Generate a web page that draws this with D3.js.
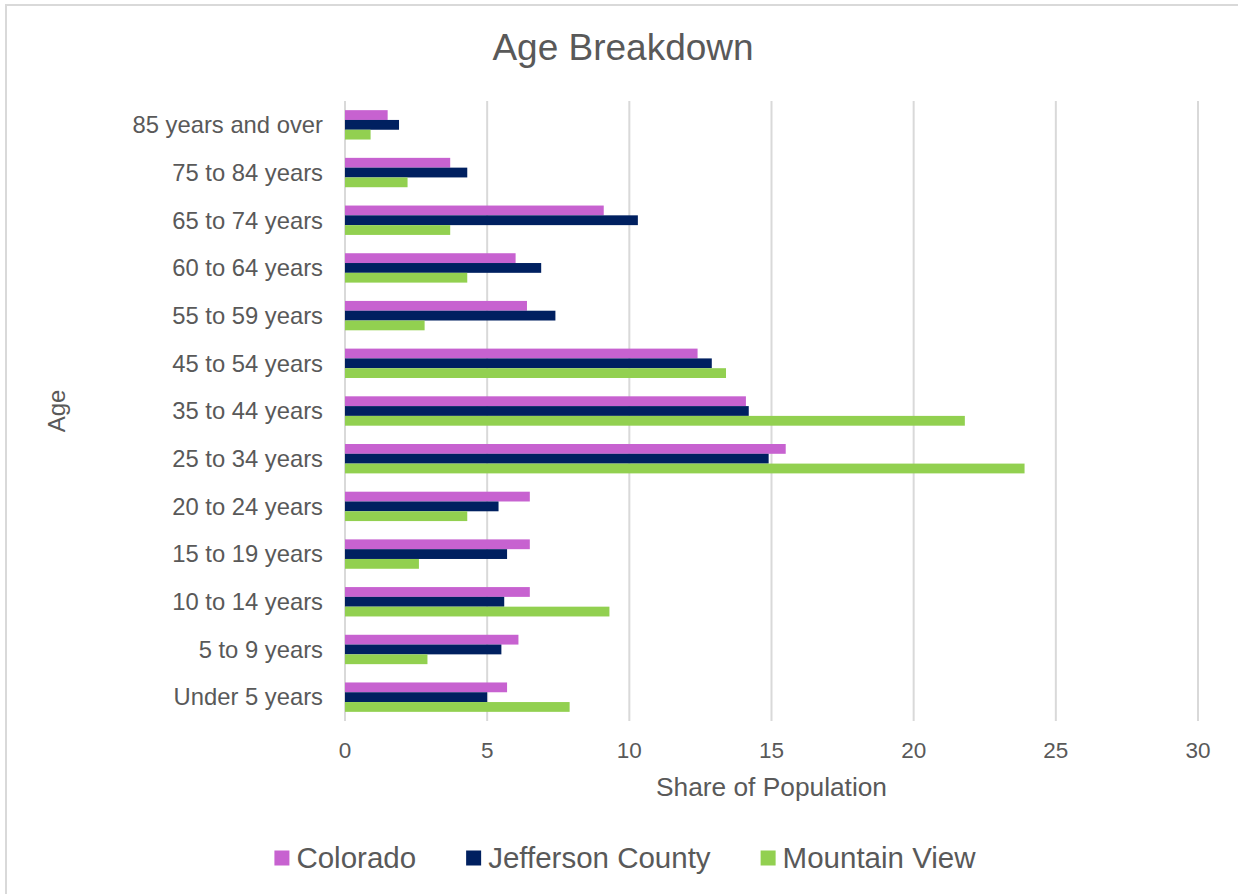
<!DOCTYPE html>
<meta charset="utf-8">
<script src="https://d3js.org/d3.v7.min.js"></script>
<style>
  body { margin: 0; background: #fff; }
  text { font-family: "Liberation Sans", Arial, sans-serif; fill: #595959; }
</style>
<div id="chart"></div>
<script>
// age groups, top to bottom as drawn
var ageGroups = ["85 years and over", "75 to 84 years", "65 to 74 years", "60 to 64 years",
  "55 to 59 years", "45 to 54 years", "35 to 44 years", "25 to 34 years", "20 to 24 years",
  "15 to 19 years", "10 to 14 years", "5 to 9 years", "Under 5 years"];

var seriesNames = ["Colorado", "Jefferson County", "Mountain View"];
var seriesColors = ["#c762d0", "#002060", "#92d050"];

// share of population (%) per age group, same order as ageGroups
var colorado      = [1.5, 3.7, 9.1, 6.0, 6.4, 12.4, 14.1, 15.5, 6.5, 6.5, 6.5, 6.1, 5.7];
var jefferson     = [1.9, 4.3, 10.3, 6.9, 7.4, 12.9, 14.2, 14.9, 5.4, 5.7, 5.6, 5.5, 5.0];
var mountainView  = [0.9, 2.2, 3.7, 4.3, 2.8, 13.4, 21.8, 23.9, 4.3, 2.6, 9.3, 2.9, 7.9];

var xTicks = [0, 5, 10, 15, 20, 25, 30];

var W = 1238, H = 894;
var plot = {left: 345, right: 1198, top: 101, bottom: 721};

var svg = d3.select("#chart").append("svg")
    .attr("width", W)
    .attr("height", H);

// chart frame (only top and left edges are visible in the picture)
svg.append("rect")
    .attr("x", 6).attr("y", 5)
    .attr("width", W + 20).attr("height", H + 20)
    .attr("fill", "none")
    .attr("stroke", "#d9d9d9")
    .attr("stroke-width", 2);

var x = d3.scaleLinear()
    .domain([0, 30])
    .range([plot.left, plot.right]);

var y = d3.scaleBand()
    .domain(ageGroups)
    .range([plot.top, plot.bottom])
    .paddingInner(0.384)
    .paddingOuter(0.192);

var ySub = d3.scaleBand()
    .domain(seriesNames)
    .range([0, y.bandwidth()]);

var color = d3.scaleOrdinal().domain(seriesNames).range(seriesColors);

// gridlines
svg.append("g")
  .selectAll("line")
  .data(xTicks)
  .enter()
  .append("line")
    .attr("x1", function(d) { return x(d); })
    .attr("x2", function(d) { return x(d); })
    .attr("y1", plot.top)
    .attr("y2", plot.bottom)
    .attr("stroke", "#d9d9d9")
    .attr("stroke-width", 2);

// x tick labels
svg.append("g")
  .selectAll("text")
  .data(xTicks)
  .enter()
  .append("text")
    .attr("x", function(d) { return x(d); })
    .attr("y", 758)
    .attr("text-anchor", "middle")
    .style("font-size", "22.5px")
    .text(function(d) { return d; });

// category labels
svg.append("g")
  .selectAll("text")
  .data(ageGroups)
  .enter()
  .append("text")
    .attr("x", 323)
    .attr("y", function(d) { return y(d) + y.bandwidth() / 2; })
    .attr("dy", "0.35em")
    .attr("text-anchor", "end")
    .style("font-size", "23.8px")
    .text(function(d) { return d; });

// bars
var rows = ageGroups.map(function(g, i) {
  return {group: g, values: [colorado[i], jefferson[i], mountainView[i]]};
});

var groups = svg.append("g")
  .selectAll("g")
  .data(rows)
  .enter()
  .append("g")
    .attr("transform", function(d) { return "translate(0," + y(d.group) + ")"; });

groups.selectAll("rect")
  .data(function(d) {
    return d.values.map(function(v, j) { return {name: seriesNames[j], value: v}; });
  })
  .enter()
  .append("rect")
    .attr("x", x(0))
    .attr("y", function(d) { return ySub(d.name); })
    .attr("width", function(d) { return x(d.value) - x(0); })
    .attr("height", ySub.bandwidth())
    .attr("fill", function(d) { return color(d.name); });

// title
svg.append("text")
    .attr("x", 623)
    .attr("y", 60)
    .attr("text-anchor", "middle")
    .style("font-size", "37px")
    .text("Age Breakdown");

// axis titles
svg.append("text")
    .attr("x", (plot.left + plot.right) / 2)
    .attr("y", 796)
    .attr("text-anchor", "middle")
    .style("font-size", "26.3px")
    .text("Share of Population");

svg.append("text")
    .attr("transform", "translate(65,411) rotate(-90)")
    .attr("text-anchor", "middle")
    .style("font-size", "24px")
    .text("Age");

// legend
var legend = svg.append("g");
var lx = 0;
seriesNames.forEach(function(name) {
  var item = legend.append("g").attr("transform", "translate(" + lx + ",0)");
  item.append("rect")
      .attr("x", 0).attr("y", -7.5)
      .attr("width", 15).attr("height", 15)
      .attr("fill", color(name));
  var t = item.append("text")
      .attr("x", 22)
      .attr("dy", "0.35em")
      .style("font-size", "29.5px")
      .text(name);
  lx += 22 + t.node().getComputedTextLength() + 50;
});
var legendWidth = lx - 50;
legend.attr("transform", "translate(" + (625 - legendWidth / 2) + ",858)");
</script>
